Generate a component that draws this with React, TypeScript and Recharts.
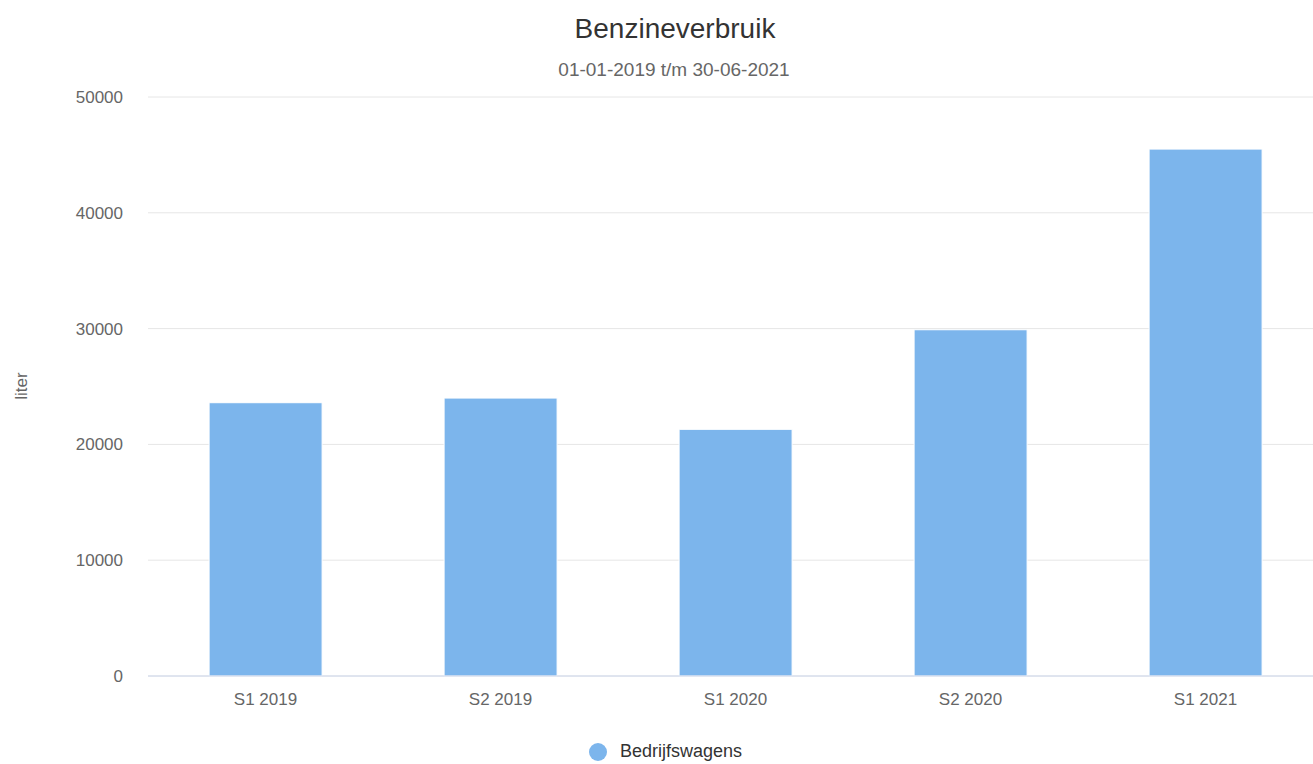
import React from "react";
import { BarChart, Bar, XAxis, YAxis, CartesianGrid, Legend } from "recharts";

const periods = ["S1 2019", "S2 2019", "S1 2020", "S2 2020", "S1 2021"];
const bedrijfswagens = [23600, 24000, 21300, 29900, 45500];
const yTicks = [0, 10000, 20000, 30000, 40000, 50000];

const data = periods.map((p, i) => ({ period: p, bedrijfswagens: bedrijfswagens[i] }));

const FONT = '"Liberation Sans", Arial, Helvetica, sans-serif';

const LegendContent = () => (
  <div style={{ display: "flex", alignItems: "center", fontFamily: FONT }}>
    <span
      style={{
        width: 18,
        height: 18,
        borderRadius: "50%",
        background: "#7cb5ec",
        display: "inline-block",
        marginRight: 13,
      }}
    />
    <span style={{ fontSize: 18, color: "#333333" }}>Bedrijfswagens</span>
  </div>
);

export default function App() {
  return (
    <div
      style={{
        position: "absolute",
        left: 0,
        top: 0,
        width: 1313,
        height: 764,
        background: "#fff",
        overflow: "hidden",
      }}
    >
      <BarChart
        width={1323}
        height={764}
        data={data}
        margin={{ top: 97, right: 0, left: 0, bottom: 58 }}
        barCategoryGap="26%"
      >
        <CartesianGrid vertical={false} stroke="#e6e6e6" />
        <XAxis
          dataKey="period"
          height={30}
          axisLine={{ stroke: "#ccd6eb" }}
          tickLine={false}
          tickSize={0}
          tickMargin={17}
          tick={{ fill: "#666666", fontSize: 17, fontFamily: FONT }}
        />
        <YAxis
          width={148}
          domain={[0, 50000]}
          ticks={yTicks}
          axisLine={false}
          tickLine={false}
          tickSize={0}
          tickMargin={25}
          tick={{ fill: "#666666", fontSize: 17, fontFamily: FONT }}
        />
        <Legend
          verticalAlign="middle"
          content={<LegendContent />}
          wrapperStyle={{ top: 741, left: 589, width: 200, height: 22 }}
        />
        <Bar
          dataKey="bedrijfswagens"
          name="Bedrijfswagens"
          fill="#7cb5ec"
          stroke="#ffffff"
          strokeWidth={1}
          isAnimationActive={false}
        />
      </BarChart>
      <svg
        width={1313}
        height={764}
        style={{ position: "absolute", left: 0, top: 0, pointerEvents: "none" }}
      >
        <text x={675} y={38} textAnchor="middle" fontSize={28} fill="#333333" fontFamily={FONT}>
          Benzineverbruik
        </text>
        <text x={674} y={76} textAnchor="middle" fontSize={19} fill="#666666" fontFamily={FONT}>
          01-01-2019 t/m 30-06-2021
        </text>
        <text
          x={27}
          y={386}
          textAnchor="middle"
          fontSize={17}
          fill="#666666"
          fontFamily={FONT}
          transform="rotate(-90 27 386)"
        >
          liter
        </text>
      </svg>
    </div>
  );
}
